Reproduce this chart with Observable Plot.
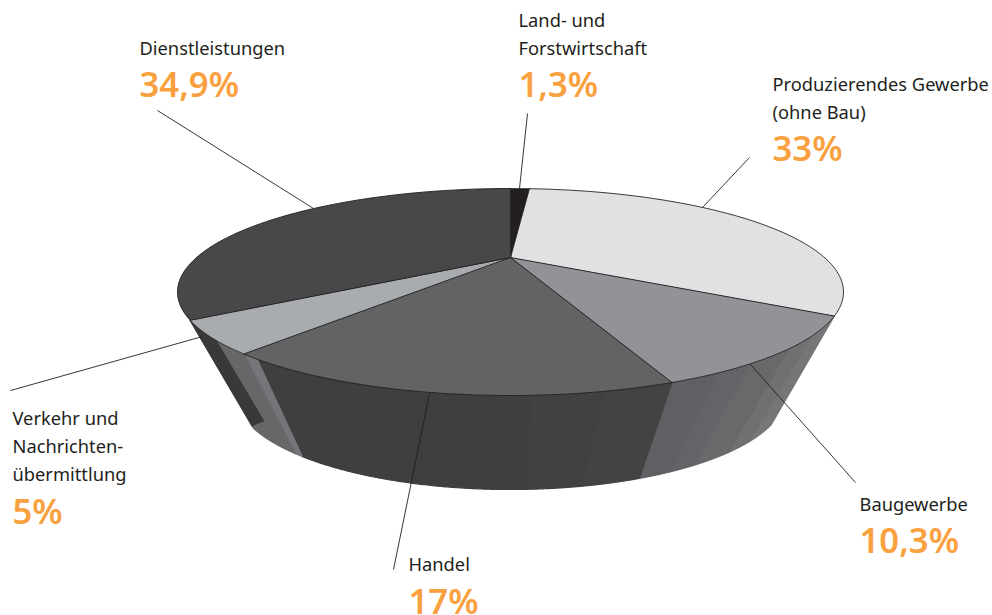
<!DOCTYPE html>
<html>
<head>
<meta charset="utf-8">
<script src="https://cdn.jsdelivr.net/npm/d3@7"></script>
<script src="https://cdn.jsdelivr.net/npm/@observablehq/plot@0.6"></script>
<style>
html,body{margin:0;padding:0;background:#fff}
svg{display:block}
</style>
</head>
<body>
<div id="chart"></div>
<script>
// --- data ---
const categories = ["Land- und\nForstwirtschaft", "Produzierendes Gewerbe\n(ohne Bau)", "Baugewerbe", "Handel", "Verkehr und\nNachrichten-\nübermittlung", "Dienstleistungen"];
const shareLabels = ["1,3%", "33%", "10,3%", "17%", "5%", "34,9%"];
const wedgeShares = [1.3, 33, 10.6, 16.85, 4.85, 34.9];
const topColors = ["#231f20", "#e0e1e3", "#929396", "#626365", "#a9acae", "#48484a"];

// side facets: cumulative share at the upper / lower rim, colour, depth of the wall at each end
const facetTopFrom = [34.3, 37.1, 39.0, 41.4, 42.9, 44.9, 47.5, 50.05, 60.95, 61.75, 63.8];
const facetTopTo   = [37.1, 39.0, 41.4, 42.9, 44.9, 47.5, 50.05, 60.95, 61.75, 66.6, 66.6];
const facetLowFrom = [34.3, 37.1, 39.0, 41.4, 42.9, 44.6, 47.5, 50.05, 61.75, 62.3, 63.8];
const facetLowTo   = [37.1, 39.0, 41.4, 42.9, 44.6, 47.5, 50.05, 61.75, 62.3, 66.6, 66.6];
const facetColors  = ["#757678", "#6f7072", "#68696b", "#636467", "#5f6064", "#434343", "#414141", "#3f3f3f", "#74767a", "#666768", "#3a3839"];
const facetDepthFrom = [1, 1, 1, 1, 1, 1, 1, 1, 1, 1, 0.77];
const facetDepthTo   = [1, 1, 1, 1, 1, 1, 1, 1, 1, 1, 0.98];

// --- layout ---
const W = 992, H = 615;
const upper = {cx: 510, cy: 291.5, rx: 333, ry: 103.5, r: 0.333};
const lower = {cx: 510, cy: 394, rx: 275, ry: 95, r: 0.25};
const apex = {x: upper.cx, y: upper.cy - upper.r * upper.ry};
const labelPos = [[518, 54, 96.5], [772, 118, 160], [859, 510, 552.5], [408, 570.5, 613], [12, 480, 523.5], [139, 54, 96.5]];
const leaderPos = [[527, 113, 519, 188], [749, 157, 702, 207], [750, 364, 855, 482], [429, 393, 393, 569], [10, 390, 202, 336], [157, 110, 313, 208]];

const total = d3.sum(wedgeShares);
const cum = d3.cumsum(wedgeShares);

// Perspective view of a flat disc: equal angles crowd together at the far side.
function rim(e, c) {
  const a = c / total * 2 * Math.PI, s = Math.sin(a), k = Math.cos(a);
  const d = 1 + e.r * k;
  const u = s * Math.sqrt(1 - e.r * e.r) / d, v = (k + e.r) / d;
  return {x: e.cx + e.rx * u, y: e.cy - e.ry * v};
}
const steps = (a, b) => d3.range(0, 121).map(i => a + (b - a) * i / 120);

const slices = [];
wedgeShares.forEach((v, i) => {
  const from = i ? cum[i - 1] : 0;
  slices.push({id: i, ...apex, fill: topColors[i]});
  for (const c of steps(from, from + v)) slices.push({id: i, ...rim(upper, c), fill: topColors[i]});
});

const facets = [];
facetColors.forEach((col, i) => {
  const low = c => {
    const f = (c - facetLowFrom[i]) / (facetLowTo[i] - facetLowFrom[i]);
    const t = facetDepthFrom[i] + (facetDepthTo[i] - facetDepthFrom[i]) * f;
    const p = rim(lower, c), q = rim(upper, c);
    return {x: q.x + (p.x - q.x) * t, y: q.y + (p.y - q.y) * t};
  };
  for (const c of steps(facetTopFrom[i], facetTopTo[i])) facets.push({id: i, ...rim(upper, c), fill: col});
  for (const c of steps(facetLowTo[i], facetLowFrom[i])) facets.push({id: i, ...low(c), fill: col});
});

const leaders = leaderPos.map(([x1, y1, x2, y2]) => ({x1, y1, x2, y2}));
const names = categories.map((name, i) => ({name, x: labelPos[i][0], y: labelPos[i][1]}));
const pcts = shareLabels.map((t, i) => ({t, x: labelPos[i][0], y: labelPos[i][2]}));

const FONT = "'Noto Sans', 'Open Sans', sans-serif";
const chart = Plot.plot({
  width: W, height: H, margin: 0,
  x: {domain: [0, W], range: [0, W], axis: null},
  y: {domain: [0, H], range: [0, H], axis: null},
  style: {fontFamily: FONT, background: "#fff"},
  marks: [
    Plot.line(facets, {x: "x", y: "y", z: "id", fill: "fill", stroke: "fill", strokeWidth: 1.2, curve: "linear-closed"}),
    Plot.line(slices, {x: "x", y: "y", z: "id", fill: "fill", stroke: "#231f20", strokeWidth: 0.9, curve: "linear-closed"}),
    Plot.link(leaders, {x1: "x1", y1: "y1", x2: "x2", y2: "y2", stroke: "#231f20", strokeWidth: 0.9}),
    Plot.text(names, {x: "x", y: "y", text: "name", textAnchor: "start", lineAnchor: "bottom", fontSize: 18.3, lineHeight: 1.53, fill: "#231f20"}),
    Plot.text(pcts, {x: "x", y: "y", text: "t", textAnchor: "start", lineAnchor: "bottom", fontSize: 34.7, fontWeight: 600, fill: "#f9a03f"})
  ]
});
document.getElementById("chart").appendChild(chart);
</script>
</body>
</html>
